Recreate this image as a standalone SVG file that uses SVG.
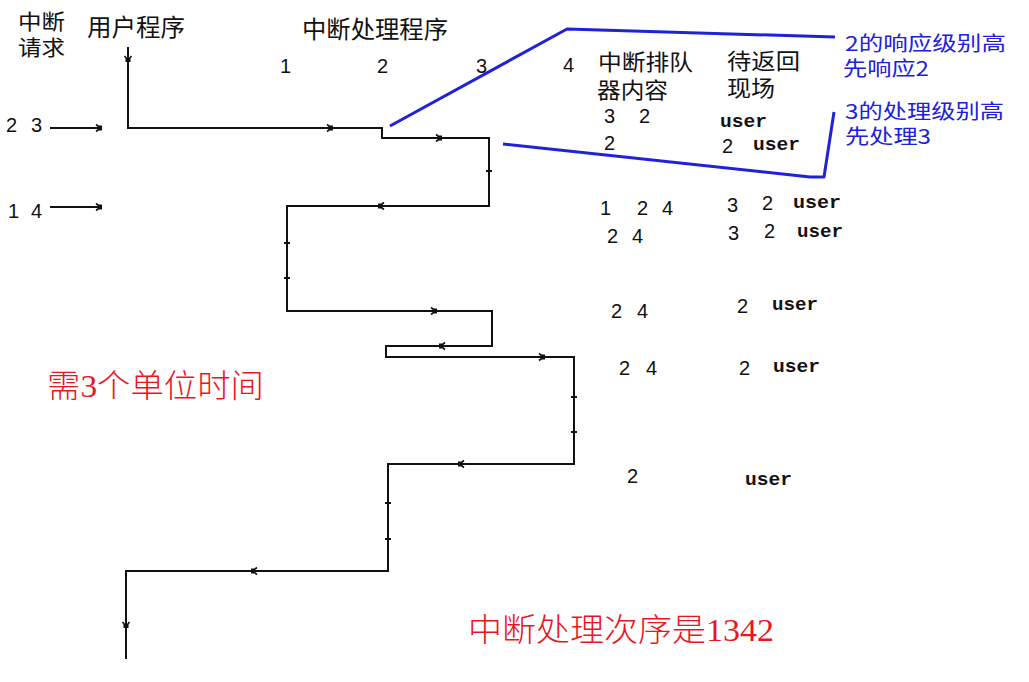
<svg xmlns="http://www.w3.org/2000/svg" xmlns:xlink="http://www.w3.org/1999/xlink" width="1029" height="682" viewBox="0 0 1029 682">
<style>
.cjk{font-family:"Noto Sans CJK SC","Liberation Sans",sans-serif;fill:#111}
.num{font-family:"Liberation Sans","DejaVu Sans",sans-serif;font-size:20px;fill:#111}
.usr{font-family:"Liberation Mono","DejaVu Sans Mono",monospace;font-size:19px;font-weight:bold;fill:#111}
.blue{font-family:"Noto Sans CJK SC","Liberation Sans",sans-serif;font-size:20px;fill:#2020dc}
.red{font-family:"Liberation Serif","Noto Sans CJK SC",serif;font-size:32px;font-weight:300;fill:#e8161e}
.flow{fill:none;stroke:#111;stroke-width:2}
.bl{fill:none;stroke:#1f22d8;stroke-width:3;stroke-linejoin:round}
</style>
<defs>
<g id="ah"><path d="M-4,-3.5 L0.5,0 L-4,3.5" fill="none" stroke="#111" stroke-width="1.6"/><rect x="-1.5" y="-2.5" width="3.5" height="5" fill="#111"/></g>
<path id="tk" d="M-3,0 H3" stroke="#111" stroke-width="2"/>
</defs>
<rect width="1029" height="682" fill="#fff"/>

<g id="headers">
<text class="cjk" x="18" y="29" font-size="21" textLength="47" lengthAdjust="spacingAndGlyphs">中断</text>
<text class="cjk" x="18" y="55" font-size="21" textLength="47" lengthAdjust="spacingAndGlyphs">请求</text>
<text class="cjk" x="87" y="36" font-size="24" textLength="98" lengthAdjust="spacingAndGlyphs">用户程序</text>
<text class="cjk" x="302" y="38" font-size="24" textLength="146" lengthAdjust="spacingAndGlyphs">中断处理程序</text>
<text class="num" x="280" y="73">1</text>
<text class="num" x="377" y="73">2</text>
<text class="num" x="476" y="73">3</text>
<text class="num" x="563" y="72">4</text>
</g>

<g id="requests">
<text class="num" x="6" y="132">2</text>
<text class="num" x="31" y="132">3</text>
<text class="num" x="8" y="218">1</text>
<text class="num" x="31" y="218">4</text>
</g>

<g id="connectors">
<path class="flow" d="M128,47 V128 H382 V138 H489 V206 H287 V311 H492 V346 H386 V357 H574 V464 H388 V571 H126 V659"/>
<path class="flow" d="M50,128 H101"/>
<path class="flow" d="M50,207 H101"/>
<use xlink:href="#ah" transform="translate(100,128)"/>
<use xlink:href="#ah" transform="translate(100,207)"/>
<use xlink:href="#ah" transform="translate(331,128)"/>
<use xlink:href="#ah" transform="translate(440,138)"/>
<use xlink:href="#ah" transform="translate(435,311)"/>
<use xlink:href="#ah" transform="translate(543,357)"/>
<use xlink:href="#ah" transform="translate(380,206) rotate(180)"/>
<use xlink:href="#ah" transform="translate(441,346) rotate(180)"/>
<use xlink:href="#ah" transform="translate(460,464) rotate(180)"/>
<use xlink:href="#ah" transform="translate(253,571) rotate(180)"/>
<use xlink:href="#ah" transform="translate(128,60) rotate(90)"/>
<use xlink:href="#ah" transform="translate(126,626) rotate(90)"/>
<use xlink:href="#tk" transform="translate(489,171)"/>
<use xlink:href="#tk" transform="translate(287,243)"/>
<use xlink:href="#tk" transform="translate(287,278)"/>
<use xlink:href="#tk" transform="translate(574,397)"/>
<use xlink:href="#tk" transform="translate(574,432)"/>
<use xlink:href="#tk" transform="translate(388,503)"/>
<use xlink:href="#tk" transform="translate(388,539)"/>
</g>

<g id="queue-table">
<text class="cjk" x="598" y="70" font-size="22" textLength="95" lengthAdjust="spacingAndGlyphs">中断排队</text>
<text class="cjk" x="597" y="98" font-size="22" textLength="71" lengthAdjust="spacingAndGlyphs">器内容</text>
<text class="cjk" x="727" y="69" font-size="22" textLength="73" lengthAdjust="spacingAndGlyphs">待返回</text>
<text class="cjk" x="727" y="96" font-size="22" textLength="48" lengthAdjust="spacingAndGlyphs">现场</text>

<text class="num" x="604" y="123">3</text><text class="num" x="639" y="123">2</text>
<text class="usr" x="720" y="127" textLength="47" lengthAdjust="spacingAndGlyphs">user</text>
<text class="num" x="604" y="150">2</text>
<text class="num" x="722" y="153">2</text>
<text class="usr" x="753" y="150" textLength="47" lengthAdjust="spacingAndGlyphs">user</text>

<text class="num" x="600" y="215">1</text><text class="num" x="637" y="215">2</text><text class="num" x="662" y="215">4</text>
<text class="num" x="727" y="212">3</text><text class="num" x="762" y="210">2</text>
<text class="usr" x="793" y="208" textLength="48" lengthAdjust="spacingAndGlyphs">user</text>

<text class="num" x="607" y="243">2</text><text class="num" x="632" y="243">4</text>
<text class="num" x="728" y="240">3</text><text class="num" x="764" y="238">2</text>
<text class="usr" x="797" y="237" textLength="46" lengthAdjust="spacingAndGlyphs">user</text>

<text class="num" x="611" y="318">2</text><text class="num" x="637" y="318">4</text>
<text class="num" x="737" y="313">2</text>
<text class="usr" x="772" y="310" textLength="46" lengthAdjust="spacingAndGlyphs">user</text>

<text class="num" x="619" y="375">2</text><text class="num" x="646" y="375">4</text>
<text class="num" x="739" y="375">2</text>
<text class="usr" x="773" y="372" textLength="47" lengthAdjust="spacingAndGlyphs">user</text>

<text class="num" x="627" y="483">2</text>
<text class="usr" x="745" y="485" textLength="47" lengthAdjust="spacingAndGlyphs">user</text>
</g>

<g id="blue-notes">
<path class="bl" d="M390,126 L567,29 L835,37"/>
<path class="bl" d="M503,144 L810,177 L824,177 L834,112"/>
<text class="blue" x="845" y="51" textLength="161" lengthAdjust="spacingAndGlyphs">2的响应级别高</text>
<text class="blue" x="843" y="76" textLength="86" lengthAdjust="spacingAndGlyphs">先响应2</text>
<text class="blue" x="845" y="119" textLength="159" lengthAdjust="spacingAndGlyphs">3的处理级别高</text>
<text class="blue" x="845" y="144" textLength="86" lengthAdjust="spacingAndGlyphs">先处理3</text>
</g>

<g id="red-notes">
<text class="red" x="47" y="397" textLength="217" lengthAdjust="spacingAndGlyphs">需3个单位时间</text>
<text class="red" x="468" y="641" textLength="306" lengthAdjust="spacingAndGlyphs">中断处理次序是1342</text>
</g>
</svg>
